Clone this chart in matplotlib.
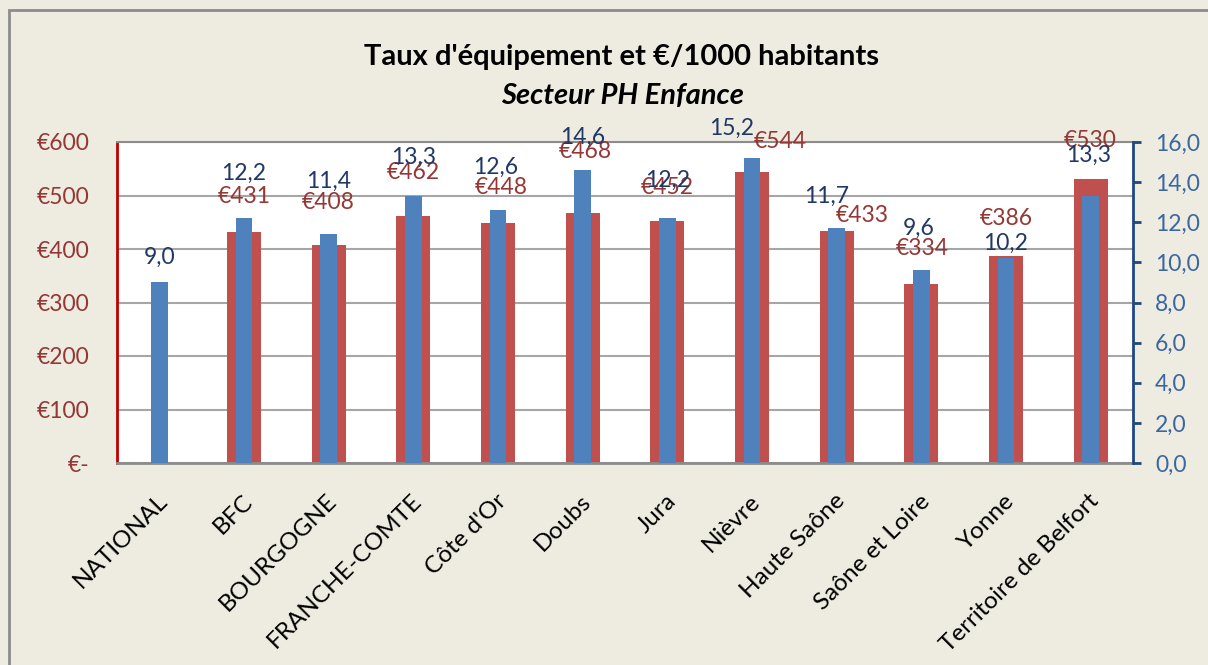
import matplotlib
matplotlib.use('Agg')
from matplotlib import pyplot as plt
from matplotlib.patches import Rectangle
from matplotlib.transforms import ScaledTranslation
import numpy as np

regions = ['NATIONAL', 'BFC', 'BOURGOGNE', 'FRANCHE-COMTE', "Côte d'Or", 'Doubs',
           'Jura', 'Nièvre', 'Haute Saône', 'Saône et Loire', 'Yonne', 'Territoire de Belfort']
euros = [np.nan, 431, 408, 462, 448, 468, 452, 544, 433, 334, 386, 530]
taux = [9.0, 12.2, 11.4, 13.3, 12.6, 14.6, 12.2, 15.2, 11.7, 9.6, 10.2, 13.3]

# label offsets from bar tops (pixels), placed by hand in the original
euro_dx = [0, 0, 0, 0, 3, 3, 0, 28, 26, 1, 0, 0]
euro_dy = [0, 36, 42, 43, 36, 61, 34, 30, 16, 36, 38, 39]
taux_dx = [0, 0, 0, 0, -2, 0, 0, -20, -10, -3, 0, -2]
taux_dy = [25, 45, 53, 39, 43, 33, 38, 30, 32, 42, 15, 41]

plt.rcParams['font.family'] = ['Lato', 'DejaVu Sans']

red = '#C0504D'
blue = '#4F81BD'
red_txt = '#953735'
blue_txt = '#1F3864'
blue_tick = '#3A67A0'
bg = '#EEECE1'

fig = plt.figure(figsize=(12.08, 6.65), dpi=100, facecolor=bg)
fig.patches.append(Rectangle((9 / 1208, -0.1), 1.2, 1 - 10 / 665 + 0.1, transform=fig.transFigure,
                             facecolor='none', edgecolor='#8C8C8C', linewidth=2))

ax = fig.add_axes([117 / 1208, 1 - 463 / 665, (1133 - 117) / 1208, (463 - 142) / 665])
ax2 = ax.twinx()

x = np.arange(len(regions))
ax.bar(x, euros, width=0.4, color=red, zorder=2)
ax2.bar(x, taux, width=0.2, color=blue, zorder=2)

ax.set_xlim(-0.5, len(regions) - 0.5)
ax.set_ylim(0, 600)
ax2.set_ylim(0, 16)

ax.set_yticks(np.arange(0, 601, 100))
ax.set_yticklabels(['€-'] + [f'€{v}' for v in range(100, 601, 100)])
ax2.set_yticks(np.arange(0, 16.1, 2))
ax2.set_yticklabels([f'{v:.1f}'.replace('.', ',') for v in np.arange(0, 16.1, 2)])

ax.yaxis.grid(color='#A6A6A6', linewidth=1.5)
ax.set_axisbelow(True)
ax.tick_params(axis='y', length=0, labelsize=16.5, labelcolor=red_txt, pad=20)
ax2.tick_params(axis='y', length=6, width=2, color='#1F497D', labelsize=16.5,
                labelcolor=blue_tick, pad=10)

ax.set_xticks(x)
ax.set_xticklabels(regions, rotation=45, ha='right', va='center', rotation_mode='anchor', fontsize=17.5)
ax.tick_params(axis='x', length=0, pad=25)
shift = ScaledTranslation(5 / 100, 0, fig.dpi_scale_trans)
for lbl in ax.get_xticklabels():
    lbl.set_transform(lbl.get_transform() + shift)

for s in ['top', 'bottom']:
    ax.spines[s].set_color('#8C8C8C')
    ax2.spines[s].set_visible(False)
ax.spines['top'].set_linewidth(1.5)
ax.spines['bottom'].set_linewidth(2)
ax.spines['left'].set_color('#C00000')
ax.spines['left'].set_linewidth(2)
ax.spines['right'].set_visible(False)
ax2.spines['left'].set_visible(False)
ax2.spines['right'].set_color('#1F497D')
ax2.spines['right'].set_linewidth(2)

for i, v in enumerate(euros):
    if np.isnan(v):
        continue
    ax.annotate(f'€{v}', (x[i], v), xytext=(euro_dx[i], euro_dy[i]), textcoords='offset pixels',
                ha='center', va='center', fontsize=16.5, color=red_txt, zorder=5)
for i, v in enumerate(taux):
    ax2.annotate(f'{v:.1f}'.replace('.', ','), (x[i], v), xytext=(taux_dx[i], taux_dy[i]),
                 textcoords='offset pixels', ha='center', va='center', fontsize=16.5,
                 color=blue_txt, zorder=5)

fig.text(622 / 1208, 1 - 57 / 665, "Taux d'équipement et €/1000 habitants",
         ha='center', va='center', fontsize=21, fontweight='bold')
fig.text(622 / 1208, 1 - 96 / 665, 'Secteur PH Enfance',
         ha='center', va='center', fontsize=21, fontweight='bold', fontstyle='italic')

fig.savefig('out.png', dpi=100, facecolor=bg)
